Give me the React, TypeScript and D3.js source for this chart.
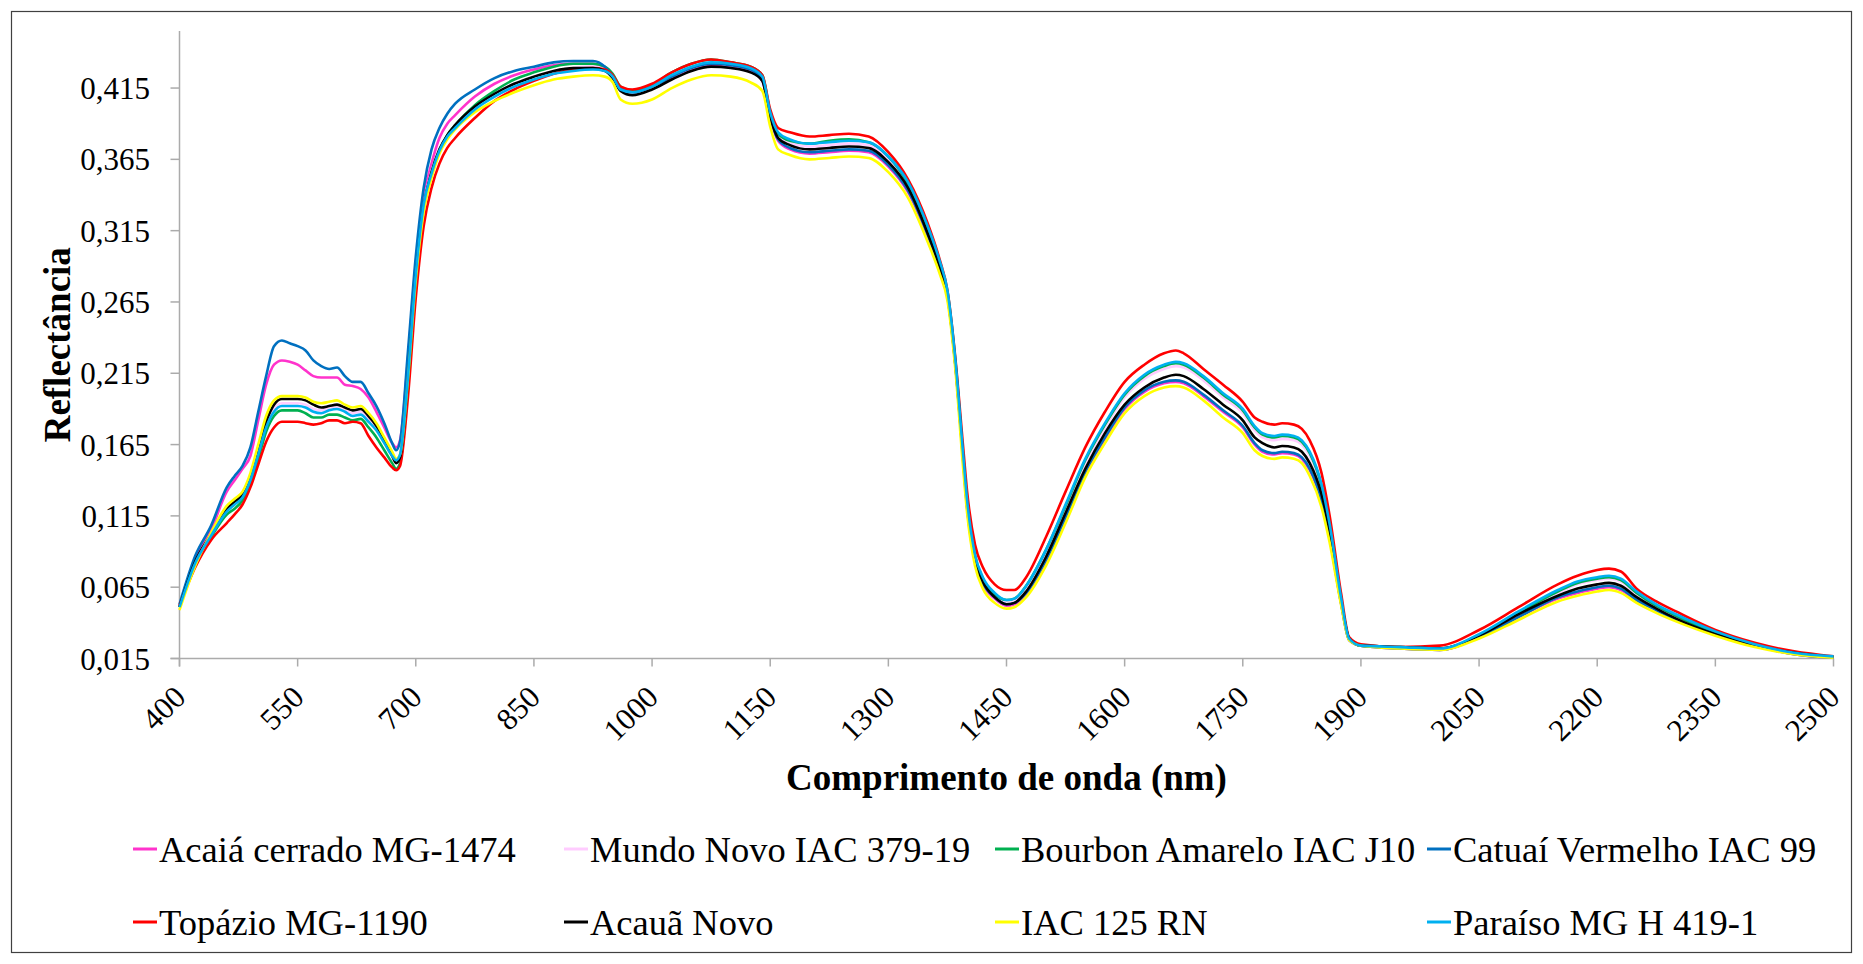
import React from "react";
import * as d3 from "d3";

const WL = [
  400, 420, 440, 460, 470, 480, 490, 500, 510, 520,
  530, 540, 550, 560, 570, 580, 590, 600, 610, 620,
  630, 640, 650, 660, 670, 675, 680, 690, 700, 710,
  720, 730, 740, 750, 775, 800, 825, 850, 875, 900,
  925, 940, 950, 960, 975, 1000, 1025, 1050, 1075, 1100,
  1125, 1140, 1150, 1160, 1175, 1200, 1225, 1250, 1275, 1300,
  1325, 1350, 1365, 1375, 1385, 1395, 1400, 1410, 1420, 1435,
  1450, 1460, 1475, 1500, 1525, 1550, 1575, 1600, 1625, 1650,
  1665, 1675, 1700, 1725, 1750, 1765, 1775, 1790, 1800, 1815,
  1825, 1835, 1850, 1860, 1875, 1885, 1900, 1950, 2000, 2050,
  2100, 2150, 2175, 2200, 2215, 2230, 2250, 2275, 2300, 2350,
  2400, 2450, 2500,
];

const ACAIA = [
  0.052, 0.085, 0.105, 0.132, 0.140, 0.148, 0.157, 0.182, 0.207, 0.221,
  0.224, 0.223, 0.221, 0.217, 0.213, 0.212, 0.212, 0.212, 0.207, 0.206,
  0.204, 0.198, 0.188, 0.177, 0.166, 0.163, 0.168, 0.225, 0.292, 0.338,
  0.362, 0.380, 0.390, 0.396, 0.409, 0.418, 0.424, 0.428, 0.431, 0.432,
  0.432, 0.429, 0.423, 0.414, 0.411, 0.415, 0.422, 0.428, 0.431, 0.430,
  0.427, 0.420, 0.394, 0.378, 0.372, 0.369, 0.370, 0.371, 0.370, 0.360,
  0.342, 0.311, 0.289, 0.269, 0.221, 0.153, 0.120, 0.083, 0.067, 0.057,
  0.052, 0.053, 0.060, 0.083, 0.113, 0.145, 0.169, 0.190, 0.202, 0.208,
  0.209, 0.208, 0.199, 0.188, 0.177, 0.165, 0.160, 0.158, 0.159, 0.158,
  0.155, 0.147, 0.125, 0.100, 0.053, 0.028, 0.024, 0.022, 0.021, 0.030,
  0.044, 0.057, 0.061, 0.064, 0.065, 0.063, 0.056, 0.049, 0.042, 0.032,
  0.024, 0.018, 0.0155,
];

const MUNDO_NOVO = [
  0.051, 0.082, 0.101, 0.119, 0.124, 0.129, 0.141, 0.160, 0.179, 0.190,
  0.194, 0.194, 0.194, 0.193, 0.190, 0.189, 0.190, 0.191, 0.189, 0.187,
  0.188, 0.183, 0.176, 0.167, 0.157, 0.154, 0.158, 0.212, 0.284, 0.333,
  0.357, 0.372, 0.382, 0.389, 0.402, 0.411, 0.418, 0.423, 0.427, 0.429,
  0.430, 0.428, 0.424, 0.414, 0.411, 0.415, 0.423, 0.429, 0.432, 0.431,
  0.428, 0.422, 0.397, 0.382, 0.377, 0.374, 0.375, 0.376, 0.375, 0.365,
  0.347, 0.316, 0.292, 0.271, 0.223, 0.156, 0.124, 0.086, 0.070, 0.059,
  0.055, 0.056, 0.064, 0.089, 0.120, 0.152, 0.177, 0.198, 0.211, 0.218,
  0.220, 0.219, 0.210, 0.198, 0.187, 0.175, 0.170, 0.168, 0.169, 0.168,
  0.165, 0.157, 0.134, 0.108, 0.056, 0.029, 0.024, 0.023, 0.022, 0.031,
  0.047, 0.061, 0.067, 0.070, 0.071, 0.069, 0.060, 0.052, 0.045, 0.033,
  0.025, 0.019, 0.016,
];

const BOURBON = [
  0.051, 0.081, 0.100, 0.116, 0.120, 0.126, 0.138, 0.155, 0.174, 0.185,
  0.189, 0.189, 0.189, 0.187, 0.184, 0.184, 0.186, 0.186, 0.184, 0.182,
  0.183, 0.177, 0.170, 0.161, 0.152, 0.148, 0.152, 0.205, 0.280, 0.330,
  0.355, 0.371, 0.382, 0.389, 0.403, 0.413, 0.421, 0.426, 0.430, 0.432,
  0.432, 0.430, 0.425, 0.416, 0.413, 0.417, 0.426, 0.432, 0.435, 0.433,
  0.430, 0.424, 0.398, 0.383, 0.378, 0.376, 0.378, 0.379, 0.377, 0.367,
  0.348, 0.317, 0.293, 0.272, 0.224, 0.157, 0.125, 0.087, 0.071, 0.060,
  0.056, 0.057, 0.066, 0.091, 0.122, 0.154, 0.179, 0.200, 0.213, 0.220,
  0.222, 0.221, 0.212, 0.200, 0.189, 0.177, 0.172, 0.170, 0.171, 0.170,
  0.167, 0.159, 0.136, 0.109, 0.056, 0.029, 0.024, 0.023, 0.022, 0.031,
  0.047, 0.062, 0.068, 0.071, 0.072, 0.070, 0.061, 0.052, 0.045, 0.033,
  0.025, 0.019, 0.016,
];

const CATUAI = [
  0.053, 0.087, 0.108, 0.135, 0.143, 0.150, 0.163, 0.188, 0.213, 0.234,
  0.238, 0.236, 0.234, 0.231, 0.224, 0.220, 0.218, 0.219, 0.213, 0.209,
  0.209, 0.201, 0.192, 0.180, 0.166, 0.161, 0.167, 0.230, 0.297, 0.345,
  0.372, 0.387, 0.397, 0.404, 0.414, 0.422, 0.427, 0.430, 0.433, 0.434,
  0.434, 0.430, 0.423, 0.415, 0.412, 0.416, 0.423, 0.429, 0.432, 0.431,
  0.428, 0.421, 0.395, 0.379, 0.373, 0.370, 0.371, 0.372, 0.371, 0.361,
  0.343, 0.312, 0.289, 0.269, 0.221, 0.154, 0.121, 0.084, 0.068, 0.058,
  0.053, 0.054, 0.061, 0.084, 0.114, 0.146, 0.170, 0.191, 0.203, 0.209,
  0.210, 0.209, 0.200, 0.189, 0.178, 0.166, 0.161, 0.159, 0.160, 0.159,
  0.156, 0.148, 0.126, 0.101, 0.053, 0.028, 0.024, 0.022, 0.021, 0.030,
  0.044, 0.058, 0.062, 0.065, 0.066, 0.064, 0.056, 0.049, 0.042, 0.032,
  0.024, 0.018, 0.0155,
];

const TOPAZIO = [
  0.052, 0.079, 0.098, 0.110, 0.116, 0.123, 0.135, 0.151, 0.167, 0.177,
  0.181, 0.181, 0.181, 0.180, 0.179, 0.180, 0.182, 0.182, 0.180, 0.181,
  0.180, 0.171, 0.163, 0.156, 0.149, 0.147, 0.150, 0.198, 0.268, 0.318,
  0.345, 0.362, 0.373, 0.380, 0.394, 0.406, 0.414, 0.420, 0.425, 0.428,
  0.429, 0.428, 0.424, 0.416, 0.414, 0.418, 0.426, 0.432, 0.435, 0.433,
  0.430, 0.424, 0.400, 0.387, 0.384, 0.381, 0.382, 0.383, 0.381, 0.370,
  0.351, 0.320, 0.295, 0.273, 0.226, 0.163, 0.132, 0.095, 0.079, 0.067,
  0.063, 0.063, 0.072, 0.100, 0.132, 0.163, 0.188, 0.209, 0.221, 0.229,
  0.231, 0.229, 0.218, 0.207, 0.195, 0.184, 0.181, 0.179, 0.180, 0.179,
  0.176, 0.168, 0.145, 0.116, 0.060, 0.030, 0.025, 0.023, 0.024, 0.035,
  0.051, 0.067, 0.073, 0.077, 0.078, 0.076, 0.064, 0.055, 0.048, 0.035,
  0.026, 0.020, 0.0165,
];

const ACAUA = [
  0.051, 0.083, 0.102, 0.120, 0.125, 0.130, 0.143, 0.162, 0.181, 0.193,
  0.197, 0.197, 0.197, 0.196, 0.193, 0.191, 0.192, 0.193, 0.191, 0.189,
  0.190, 0.185, 0.178, 0.168, 0.157, 0.152, 0.156, 0.210, 0.282, 0.332,
  0.356, 0.372, 0.382, 0.389, 0.402, 0.411, 0.418, 0.423, 0.427, 0.429,
  0.429, 0.427, 0.422, 0.413, 0.410, 0.414, 0.421, 0.427, 0.430, 0.429,
  0.426, 0.420, 0.395, 0.380, 0.375, 0.372, 0.373, 0.374, 0.373, 0.363,
  0.345, 0.313, 0.290, 0.270, 0.222, 0.155, 0.122, 0.085, 0.069, 0.058,
  0.053, 0.054, 0.062, 0.086, 0.117, 0.148, 0.173, 0.193, 0.205, 0.212,
  0.214, 0.213, 0.204, 0.193, 0.182, 0.170, 0.166, 0.163, 0.164, 0.163,
  0.160, 0.152, 0.130, 0.105, 0.055, 0.029, 0.024, 0.023, 0.022, 0.031,
  0.046, 0.059, 0.064, 0.067, 0.068, 0.066, 0.058, 0.050, 0.043, 0.032,
  0.024, 0.019, 0.016,
];

const IAC125 = [
  0.049, 0.080, 0.103, 0.122, 0.127, 0.132, 0.145, 0.165, 0.185, 0.196,
  0.199, 0.199, 0.199, 0.198, 0.195, 0.194, 0.195, 0.196, 0.193, 0.191,
  0.192, 0.187, 0.180, 0.170, 0.160, 0.155, 0.158, 0.210, 0.280, 0.328,
  0.352, 0.369, 0.379, 0.386, 0.398, 0.406, 0.412, 0.417, 0.421, 0.423,
  0.424, 0.423, 0.419, 0.407, 0.404, 0.407, 0.415, 0.421, 0.424, 0.423,
  0.419, 0.413, 0.388, 0.372, 0.368, 0.365, 0.366, 0.367, 0.366, 0.356,
  0.338, 0.307, 0.285, 0.266, 0.218, 0.148, 0.117, 0.080, 0.064, 0.054,
  0.050, 0.051, 0.058, 0.080, 0.110, 0.142, 0.166, 0.187, 0.199, 0.205,
  0.206, 0.205, 0.196, 0.184, 0.173, 0.161, 0.157, 0.155, 0.156, 0.155,
  0.152, 0.143, 0.121, 0.097, 0.052, 0.028, 0.024, 0.022, 0.021, 0.029,
  0.042, 0.055, 0.059, 0.062, 0.063, 0.061, 0.054, 0.047, 0.041, 0.031,
  0.023, 0.018, 0.0155,
];

const PARAISO = [
  0.051, 0.082, 0.101, 0.118, 0.123, 0.128, 0.140, 0.158, 0.177, 0.188,
  0.192, 0.192, 0.192, 0.191, 0.188, 0.187, 0.189, 0.190, 0.188, 0.185,
  0.186, 0.181, 0.175, 0.166, 0.157, 0.154, 0.158, 0.212, 0.284, 0.333,
  0.355, 0.371, 0.381, 0.387, 0.400, 0.409, 0.416, 0.421, 0.425, 0.427,
  0.428, 0.427, 0.423, 0.414, 0.412, 0.416, 0.424, 0.430, 0.433, 0.432,
  0.429, 0.423, 0.398, 0.384, 0.379, 0.376, 0.377, 0.378, 0.377, 0.367,
  0.349, 0.318, 0.294, 0.273, 0.225, 0.158, 0.126, 0.088, 0.072, 0.061,
  0.056, 0.057, 0.066, 0.091, 0.123, 0.155, 0.180, 0.201, 0.214, 0.221,
  0.223, 0.222, 0.213, 0.201, 0.190, 0.178, 0.173, 0.171, 0.172, 0.171,
  0.168, 0.160, 0.137, 0.110, 0.057, 0.029, 0.024, 0.023, 0.022, 0.032,
  0.048, 0.063, 0.069, 0.072, 0.073, 0.071, 0.062, 0.053, 0.046, 0.034,
  0.025, 0.019, 0.0165,
];

const SERIES_NAMES = [
  "Acaiá cerrado MG-1474",
  "Mundo Novo IAC 379-19",
  "Bourbon Amarelo IAC J10",
  "Catuaí Vermelho IAC 99",
  "Topázio MG-1190",
  "Acauã Novo",
  "IAC 125 RN",
  "Paraíso MG H 419-1",
];
const SERIES_VALUES = [ACAIA, MUNDO_NOVO, BOURBON, CATUAI, TOPAZIO, ACAUA, IAC125, PARAISO];
const SERIES_COLORS = ["#FF33CC", "#FFCCFF", "#00B050", "#0070C0", "#FF0000", "#000000", "#FFFF00", "#00B0F0"];

const X_TICKS = [400, 550, 700, 850, 1000, 1150, 1300, 1450, 1600, 1750, 1900, 2050, 2200, 2350, 2500];
const Y_TICKS = [0.015, 0.065, 0.115, 0.165, 0.215, 0.265, 0.315, 0.365, 0.415];

const W = 1863;
const H = 964;
const FONT = "'Liberation Serif', 'Times New Roman', serif";

export default function App() {
  const x = d3.scaleLinear().domain([400, 2500]).range([179.5, 1833.5]);
  const y = d3.scaleLinear().domain([0.015, 0.455]).range([658.5, 31]);
  const line = d3
    .line<number>()
    .x((_, i) => x(WL[i]))
    .y((v) => y(v))
    .curve(d3.curveMonotoneX);
  const fmt = (v: number) => v.toFixed(3).replace(".", ",");
  const axisColor = "#ababab";
  const legendX = [133, 564, 995, 1427];
  const legendY = [849, 922];

  return (
    <svg
      width={W}
      height={H}
      style={{ position: "absolute", left: 0, top: 0, display: "block", background: "#fff" }}
      fontFamily={FONT}
    >
      <rect x={0} y={0} width={W} height={H} fill="#fff" />
      <rect x={11.5} y={11.5} width={1840} height={941} fill="none" stroke="#404040" strokeWidth={1.2} />

      {/* axes */}
      <line x1={x(400)} x2={x(400)} y1={31} y2={y(0.015) + 8} stroke={axisColor} strokeWidth={1.5} />
      <line x1={x(400) - 9} x2={x(2500)} y1={y(0.015)} y2={y(0.015)} stroke={axisColor} strokeWidth={1.5} />
      {Y_TICKS.map((t) => (
        <g key={"y" + t}>
          <line x1={x(400) - 9} x2={x(400)} y1={y(t)} y2={y(t)} stroke={axisColor} strokeWidth={1.5} />
          <text x={150} y={y(t) + 11} textAnchor="end" fontSize={31} fill="#000">
            {fmt(t)}
          </text>
        </g>
      ))}
      {X_TICKS.map((t) => (
        <g key={"x" + t}>
          <line x1={x(t)} x2={x(t)} y1={y(0.015)} y2={y(0.015) + 8} stroke={axisColor} strokeWidth={1.5} />
          <text
            transform={`translate(${x(t) + 8},${699}) rotate(-45)`}
            textAnchor="end"
            fontSize={31}
            fill="#000"
          >
            {t}
          </text>
        </g>
      ))}

      {/* series */}
      {SERIES_VALUES.map((vals, i) => (
        <path key={SERIES_NAMES[i]} d={line(vals) || ""} fill="none" stroke={SERIES_COLORS[i]} strokeWidth={2.6} strokeLinejoin="round" />
      ))}

      {/* titles */}
      <text
        transform={`translate(70,${(31 + 658.5) / 2}) rotate(-90)`}
        textAnchor="middle"
        fontSize={37}
        fontWeight="bold"
        fill="#000"
      >
        Reflectância
      </text>
      <text x={(179.5 + 1833.5) / 2} y={790} textAnchor="middle" fontSize={37} fontWeight="bold" fill="#000">
        Comprimento de onda (nm)
      </text>

      {/* legend */}
      {SERIES_NAMES.map((name, i) => {
        const col = i % 4;
        const row = Math.floor(i / 4);
        const lx = legendX[col];
        const ly = legendY[row];
        return (
          <g key={"leg" + name}>
            <line x1={lx} x2={lx + 24} y1={ly} y2={ly} stroke={SERIES_COLORS[i]} strokeWidth={3} />
            <text x={lx + 26} y={ly + 12.5} fontSize={36.5} fill="#000">
              {name}
            </text>
          </g>
        );
      })}
    </svg>
  );
}
